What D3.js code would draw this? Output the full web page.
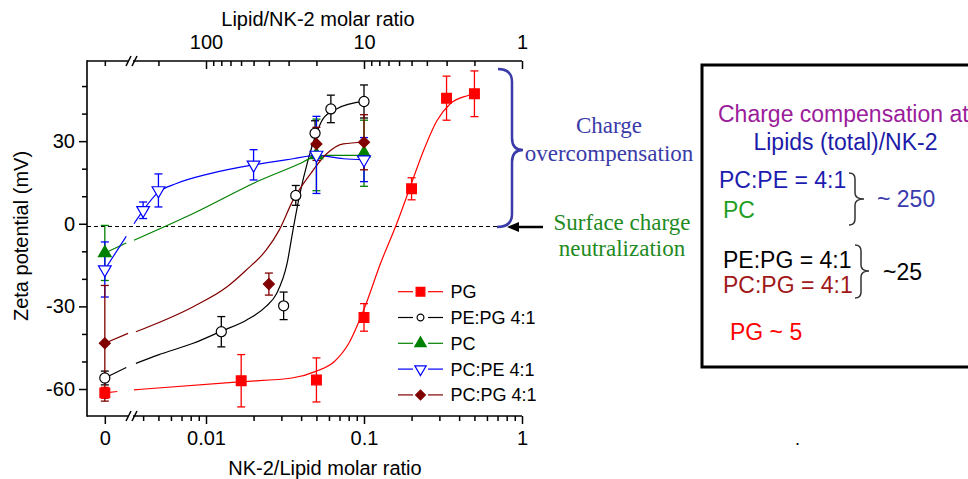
<!DOCTYPE html>
<html>
<head>
<meta charset="utf-8">
<script src="https://cdn.jsdelivr.net/npm/d3@7"></script>
<style>
  body { margin: 0; background: #fff; }
  svg { display: block; font-family: "Liberation Sans", Arial, sans-serif; }
</style>
</head>
<body>
<div id="chart"></div>
<script>
const width = 968;
const height = 479;

// measured points (x = NK-2/Lipid molar ratio, y = zeta potential in mV, err = +/- mV)
const pgX = [0, 0.0167, 0.05, 0.1, 0.2, 0.333, 0.5];
const pgY = [-61.4, -57, -56.7, -34, 12.7, 45.6, 47.2];
const pgErr = [2, 9.5, 8, 5, 4, 8, 8.3];

const pepgX = [0, 0.0125, 0.031, 0.037, 0.049, 0.0617, 0.1];
const pepgY = [-56, -39.2, -29.8, 10.3, 32.9, 41.7, 44.4];
const pepgErr = [2.5, 5.5, 5, 3.6, 4.5, 5, 6];

const pcX = [0, 0.05, 0.1];
const pcY = [-10.6, 25, 25.6];
const pcErr = [10, 13, 12];

const pcpeX = [0, 0.004, 0.005, 0.02, 0.05, 0.1];
const pcpeY = [-16.6, 4.9, 12.1, 21.4, 25, 23.3];
const pcpeErr = [10, 3, 6, 5.5, 14, 8];

const pcpgX = [0, 0.025, 0.05, 0.1];
const pcpgY = [-43.4, -21.9, 29, 29.6];
const pcpgErr = [21, 4, 6, 10];

// fitted curves
const pgFitX = [0, 0.0007, 0.0035, 0.017, 0.035, 0.05, 0.065, 0.08, 0.1, 0.128, 0.161, 0.195, 0.236, 0.29, 0.35, 0.45, 0.5];
const pgFitY = [-61.4, -60.9, -60.3, -57.3, -56, -53.5, -50, -43.5, -31, -14, 0, 13, 26, 37.5, 43.5, 46.5, 47.2];

const pepgFitX = [0, 0.0012, 0.0036, 0.005, 0.0083, 0.0125, 0.018, 0.024, 0.028, 0.0326, 0.0355, 0.0393, 0.0442, 0.049, 0.055, 0.067, 0.1];
const pepgFitY = [-56, -52.2, -50.7, -47.6, -43.4, -39, -35, -30, -25.3, -14.4, -2.4, 10.9, 23, 31.4, 38.1, 41.7, 44.5];

const pcFitX = [0, 0.0012, 0.0035, 0.0083, 0.022, 0.039, 0.047, 0.058, 0.1];
const pcFitY = [-10.6, -7, -6, 3.7, 15.8, 21.8, 24, 24.8, 24.8];

const pcpeFitX = [0, 0.0012, 0.0035, 0.004, 0.005, 0.0065, 0.0106, 0.02, 0.0356, 0.05, 0.074, 0.1];
const pcpeFitY = [-16.6, -4.6, 0, 4.9, 11.5, 14.6, 18.2, 21.4, 23.6, 24.8, 23.6, 23.3];

const pcpgFitX = [0, 0.0013, 0.0036, 0.0083, 0.0136, 0.018, 0.024, 0.029, 0.0355, 0.0476, 0.058, 0.074, 0.1];
const pcpgFitY = [-43.4, -39.8, -39.2, -30.1, -22.9, -16.8, -9.6, -2.4, 8.5, 19.4, 25.4, 29, 29.6];

const seriesNames = ['PG', 'PE:PG 4:1', 'PC', 'PC:PE 4:1', 'PC:PG 4:1'];

// tick values
const bottomMajor = [0.01, 0.1, 1];
const bottomMinor = [0.004, 0.005, 0.006, 0.007, 0.008, 0.009,
  0.02, 0.03, 0.04, 0.05, 0.06, 0.07, 0.08, 0.09,
  0.2, 0.3, 0.4, 0.5, 0.6, 0.7, 0.8, 0.9];
const topMajor = [100, 10, 1];
const topMinor = [200, 90, 80, 70, 60, 50, 40, 30, 20, 9, 8, 7, 6, 5, 4, 3, 2];
const yMajor = [-60, -30, 0, 30];
const yMinor = [-50, -40, -20, -10, 10, 20, 40, 50];

const plotL = 87, plotR = 522, plotT = 61, plotB = 416;

const svg = d3
  .select('#chart')
  .append('svg')
  .attr('width', width)
  .attr('height', height);

// y scale
const y = d3.scaleLinear().domain([-69.8, 59.1]).range([plotB, plotT]);

// broken x axis: a short linear piece holding "0", then a log piece
const xZero = d3.scaleLinear().domain([-0.001, 0.0013]).range([plotL, 128]);
const xLog = d3.scaleLog().domain([0.01, 1]).range([206, plotR]);
const x = (v) => (v < 0.002 ? xZero(v) : xLog(v));
// top axis is the reciprocal ratio
const xTop = d3.scaleLog().domain([100, 1]).range([xLog(0.01), xLog(1)]);

const series = [
  { xs: pgX, ys: pgY, err: pgErr, fx: pgFitX, fy: pgFitY, color: '#ff0000',
    type: d3.symbolSquare, size: 95, fill: '#ff0000', rot: 0 },
  { xs: pepgX, ys: pepgY, err: pepgErr, fx: pepgFitX, fy: pepgFitY, color: '#000000',
    type: d3.symbolCircle, size: 80, fill: '#ffffff', rot: 0 },
  { xs: pcX, ys: pcY, err: pcErr, fx: pcFitX, fy: pcFitY, color: '#008000',
    type: d3.symbolTriangle, size: 70, fill: '#008000', rot: 0 },
  { xs: pcpeX, ys: pcpeY, err: pcpeErr, fx: pcpeFitX, fy: pcpeFitY, color: '#0000ff',
    type: d3.symbolTriangle, size: 70, fill: '#ffffff', rot: 180 },
  { xs: pcpgX, ys: pcpgY, err: pcpgErr, fx: pcpgFitX, fy: pcpgFitY, color: '#800000',
    type: d3.symbolSquare, size: 60, fill: '#800000', rot: 45 }
];

svg.append('clipPath').attr('id', 'plotclip')
  .append('rect')
  .attr('x', plotL).attr('y', plotT)
  .attr('width', plotR - plotL + 2).attr('height', plotB - plotT);

// zero reference line
svg.append('line')
  .attr('x1', plotL).attr('x2', 500)
  .attr('y1', y(-1)).attr('y2', y(-1))
  .attr('stroke', '#000').attr('stroke-width', 1)
  .attr('stroke-dasharray', '4,3');

const plot = svg.append('g').attr('clip-path', 'url(#plotclip)');

const line = d3.line()
  .x((d) => x(d[0]))
  .y((d) => y(d[1]))
  .curve(d3.curveMonotoneX);

series.forEach(function (s) {
  const pts = s.fx.map((v, i) => [v, s.fy[i]]);
  const segA = pts.filter((p) => p[0] < 0.002);
  const segB = pts.filter((p) => p[0] >= 0.002);
  [segA, segB].forEach(function (seg) {
    plot.append('path')
      .attr('d', line(seg))
      .attr('fill', 'none')
      .attr('stroke', s.color)
      .attr('stroke-width', 1.2);
  });
});

// error bars
series.forEach(function (s) {
  const g = plot.append('g').attr('stroke', s.color).attr('stroke-width', 1.3);
  s.xs.forEach(function (xv, i) {
    const cx = x(xv);
    const lo = y(s.ys[i] - s.err[i]);
    const hi = y(s.ys[i] + s.err[i]);
    g.append('line').attr('x1', cx).attr('x2', cx).attr('y1', lo).attr('y2', hi);
    g.append('line').attr('x1', cx - 4).attr('x2', cx + 4).attr('y1', lo).attr('y2', lo);
    g.append('line').attr('x1', cx - 4).attr('x2', cx + 4).attr('y1', hi).attr('y2', hi);
  });
});

// markers
series.forEach(function (s) {
  const sym = d3.symbol().type(s.type).size(s.size);
  plot.append('g')
    .selectAll('path')
    .data(s.xs.map((v, i) => [v, s.ys[i]]))
    .enter()
    .append('path')
    .attr('d', sym)
    .attr('transform', (d) => `translate(${x(d[0])},${y(d[1])}) rotate(${s.rot})`)
    .attr('fill', s.fill)
    .attr('stroke', s.color)
    .attr('stroke-width', 1.2);
});

// axes
const axisFont = 20;
function styleAxis(g) {
  g.select('.domain').remove();
  g.selectAll('line').attr('stroke', '#000').attr('stroke-width', 1.5);
  g.selectAll('text').attr('font-size', axisFont).attr('fill', '#000')
    .attr('font-family', '"Liberation Sans", Arial, sans-serif');
}

// bottom
svg.append('g').attr('transform', `translate(0,${plotB})`)
  .call(d3.axisBottom(xLog).tickValues(bottomMajor).tickSize(8).tickPadding(7).tickFormat(d3.format('~g')))
  .call(styleAxis);
svg.append('g').attr('transform', `translate(0,${plotB})`)
  .call(d3.axisBottom(xLog).tickValues(bottomMinor).tickSize(5).tickFormat(''))
  .call(styleAxis);
svg.append('g').attr('transform', `translate(0,${plotB})`)
  .call(d3.axisBottom(xZero).tickValues([0]).tickSize(8).tickPadding(7).tickFormat(() => '0'))
  .call(styleAxis);

// top (ticks point into the plot)
svg.append('g').attr('transform', `translate(0,${plotT})`)
  .call(d3.axisTop(xTop).tickValues(topMajor).tickSize(-8).tickPadding(12).tickFormat(d3.format('~g')))
  .call(styleAxis);
svg.append('g').attr('transform', `translate(0,${plotT})`)
  .call(d3.axisTop(xTop).tickValues(topMinor).tickSize(-5).tickFormat(''))
  .call(styleAxis);
svg.append('g').attr('transform', `translate(0,${plotT})`)
  .call(d3.axisTop(xZero).tickValues([0]).tickSize(-5).tickFormat(''))
  .call(styleAxis);

// left
svg.append('g').attr('transform', `translate(${plotL},0)`)
  .call(d3.axisLeft(y).tickValues(yMajor).tickSize(8).tickPadding(4).tickFormat((d) => String(d)))
  .call(styleAxis);
svg.append('g').attr('transform', `translate(${plotL},0)`)
  .call(d3.axisLeft(y).tickValues(yMinor).tickSize(5).tickFormat(''))
  .call(styleAxis);

// axis lines
const frame = svg.append('g').attr('stroke', '#000').attr('stroke-width', 1.6);
frame.append('line').attr('x1', plotL).attr('x2', plotL).attr('y1', plotT - 0.8).attr('y2', plotB + 0.8);
frame.append('line').attr('x1', plotL).attr('x2', plotR).attr('y1', plotB).attr('y2', plotB);
frame.append('line').attr('x1', plotL).attr('x2', plotR).attr('y1', plotT).attr('y2', plotT);

// axis break marks
const bx = xZero.range()[1];
[plotB, plotT].forEach(function (ay) {
  svg.append('rect').attr('x', bx + 1).attr('y', ay - 3).attr('width', 4).attr('height', 6).attr('fill', '#fff');
  [bx - 2, bx + 4].forEach(function (sx) {
    svg.append('line')
      .attr('x1', sx).attr('y1', ay + 5)
      .attr('x2', sx + 5).attr('y2', ay - 5)
      .attr('stroke', '#000').attr('stroke-width', 1.5);
  });
});

// axis titles
svg.append('text')
  .attr('x', 325).attr('y', 475)
  .attr('text-anchor', 'middle').attr('font-size', 20)
  .text('NK-2/Lipid molar ratio');
svg.append('text')
  .attr('x', 318).attr('y', 26)
  .attr('text-anchor', 'middle').attr('font-size', 20)
  .text('Lipid/NK-2 molar ratio');
svg.append('text')
  .attr('transform', 'translate(28,236) rotate(-90)')
  .attr('text-anchor', 'middle').attr('font-size', 20)
  .text('Zeta potential (mV)');

// legend
const legend = svg.append('g');
series.forEach(function (s, i) {
  const ly = 291.7 + i * 25.8;
  const g = legend.append('g').attr('transform', `translate(0,${ly})`);
  g.append('line').attr('x1', 398).attr('x2', 413).attr('stroke', s.color).attr('stroke-width', 1.2);
  g.append('line').attr('x1', 428).attr('x2', 443).attr('stroke', s.color).attr('stroke-width', 1.2);
  g.append('path')
    .attr('d', d3.symbol().type(s.type).size(s.size * (i === 1 ? 0.45 : 0.8))())
    .attr('transform', `translate(420.5,0) rotate(${s.rot})`)
    .attr('fill', s.fill).attr('stroke', s.color).attr('stroke-width', 1.2);
  g.append('text')
    .attr('x', 450.5).attr('y', 6.5)
    .attr('font-size', 18)
    .text(seriesNames[i]);
});

// brace and annotations next to the plot
const indigo = '#3a3aa8';
svg.append('path')
  .attr('d', 'M498,69 Q512,69 512,82 L512,138 Q512,150 523,150 Q512,150 512,162 L512,214 Q512,227 497,227')
  .attr('fill', 'none').attr('stroke', indigo).attr('stroke-width', 2.5);

svg.append('line')
  .attr('x1', 543).attr('x2', 516).attr('y1', 227).attr('y2', 227)
  .attr('stroke', '#000').attr('stroke-width', 2.5);
svg.append('path')
  .attr('d', 'M507,227 L519,222 L519,232 Z')
  .attr('fill', '#000');

const serif = '"Liberation Serif", "Times New Roman", serif';
svg.append('text').attr('x', 609).attr('y', 133).attr('text-anchor', 'middle')
  .attr('font-family', serif).attr('font-size', 23).attr('fill', indigo).text('Charge');
svg.append('text').attr('x', 609).attr('y', 161).attr('text-anchor', 'middle')
  .attr('font-family', serif).attr('font-size', 23).attr('fill', indigo).text('overcompensation');
svg.append('text').attr('x', 622).attr('y', 230).attr('text-anchor', 'middle')
  .attr('font-family', serif).attr('font-size', 23).attr('fill', '#1f8a1f').text('Surface charge');
svg.append('text').attr('x', 622).attr('y', 256).attr('text-anchor', 'middle')
  .attr('font-family', serif).attr('font-size', 23).attr('fill', '#1f8a1f').text('neutralization');

// summary box
svg.append('rect')
  .attr('x', 702).attr('y', 65).attr('width', 300).attr('height', 302)
  .attr('fill', 'none').attr('stroke', '#000').attr('stroke-width', 3);

const boxText = [
  { t: 'Charge compensation at', x: 718, y: 122, c: '#9b1c9b', a: 'start' },
  { t: 'Lipids (total)/NK-2', x: 845.5, y: 150, c: '#1c1ca8', a: 'middle' },
  { t: 'PC:PE = 4:1', x: 719, y: 188, c: '#1c1cb0', a: 'start' },
  { t: 'PC', x: 723, y: 218, c: '#1fa01f', a: 'start' },
  { t: '~ 250', x: 877, y: 207, c: '#3b3bb0', a: 'start' },
  { t: 'PE:PG = 4:1', x: 723, y: 268, c: '#000000', a: 'start' },
  { t: 'PC:PG = 4:1', x: 723, y: 293, c: '#a01818', a: 'start' },
  { t: '~25', x: 883, y: 280, c: '#000000', a: 'start' },
  { t: 'PG ~ 5', x: 730, y: 340, c: '#ff0000', a: 'start' }
];
boxText.forEach(function (b) {
  svg.append('text')
    .attr('x', b.x).attr('y', b.y)
    .attr('text-anchor', b.a)
    .attr('font-size', 23)
    .attr('fill', b.c)
    .text(b.t);
});

svg.append('path')
  .attr('d', 'M849,173 Q855,173 855,179 L855,193 Q855,199 864,199 Q855,199 855,205 L855,219 Q855,225 849,225')
  .attr('fill', 'none').attr('stroke', '#333').attr('stroke-width', 1.5);
svg.append('path')
  .attr('d', 'M855,245 Q861,245 861,251 L861,265 Q861,271 869,271 Q861,271 861,277 L861,292 Q861,298 855,298')
  .attr('fill', 'none').attr('stroke', '#333').attr('stroke-width', 1.5);

svg.append('text').attr('x', 795).attr('y', 445).attr('font-size', 18).text('.');
</script>
</body>
</html>
